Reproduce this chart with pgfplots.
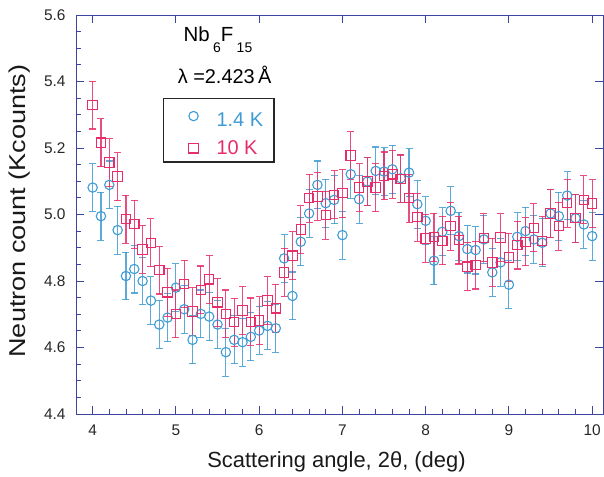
\documentclass[border=0pt]{standalone}
\usepackage{pgfplots}
\pgfplotsset{compat=1.18}
\usepackage{fontspec}
\setmainfont{Liberation Sans}
\definecolor{cblue}{RGB}{62,155,212}
\definecolor{cpink}{RGB}{230,45,105}
\definecolor{axblue}{RGB}{60,70,160}

\pgfplotstableread{
x y
4.0 5.081
4.1 4.995
4.2 5.089
4.3 4.953
4.4 4.815
4.5 4.836
4.6 4.800
4.7 4.741
4.8 4.669
4.9 4.690
5.0 4.780
5.1 4.715
5.2 4.623
5.3 4.701
5.4 4.693
5.5 4.669
5.6 4.586
5.7 4.623
5.8 4.616
5.9 4.632
6.0 4.651
6.1 4.665
6.2 4.658
6.3 4.868
6.4 4.755
6.5 4.918
6.6 5.003
6.7 5.089
6.8 5.034
6.9 5.044
7.0 4.938
7.1 5.121
7.2 5.046
7.3 5.099
7.4 5.131
7.5 5.129
7.6 5.136
7.7 5.109
7.8 5.126
7.9 5.031
8.0 4.981
8.1 4.861
8.2 4.948
8.3 5.011
8.4 4.935
8.5 4.896
8.6 4.893
8.7 4.925
8.8 4.826
8.9 4.856
9.0 4.789
9.1 4.933
9.2 4.950
9.3 4.925
9.4 4.915
9.5 5.003
9.6 4.995
9.7 5.057
9.8 4.989
9.9 4.970
10.0 4.935
}\lowT

\pgfplotstableread{
x y
4.0 5.329
4.1 5.216
4.2 5.156
4.3 5.114
4.4 4.986
4.5 4.971
4.6 4.895
4.7 4.915
4.8 4.833
4.9 4.766
5.0 4.701
5.1 4.791
5.2 4.708
5.3 4.773
5.4 4.805
5.5 4.736
5.6 4.701
5.7 4.676
5.8 4.711
5.9 4.677
6.0 4.681
6.1 4.741
6.2 4.718
6.3 4.826
6.4 4.876
6.5 4.955
6.6 5.049
6.7 5.054
6.8 4.998
6.9 5.059
7.0 5.064
7.1 5.177
7.2 5.081
7.3 5.099
7.4 5.081
7.5 5.116
7.6 5.121
7.7 5.107
7.8 5.049
7.9 4.992
8.0 4.928
8.1 4.932
8.2 4.921
8.3 4.965
8.4 4.923
8.5 4.843
8.6 4.848
8.7 4.930
8.8 4.856
8.9 4.931
9.0 4.871
9.1 4.908
9.2 4.918
9.3 4.960
9.4 4.921
9.5 5.003
9.6 4.965
9.7 5.034
9.8 4.989
9.9 5.044
10.0 5.033
}\highT

\begin{document}
\begin{tikzpicture}
\pgfplotsset{
  common/.style={
    at={(0,0)}, anchor=south west,
    scale only axis, width=527bp, height=399bp,
    xmin=3.8, xmax=10.13, ymin=4.4, ymax=5.6,
    xtick={4,5,...,10},
    ytick={4.4,4.6,...,5.6},
    tick align=inside,
    axis line style={axblue, line width=0.9pt},
    every tick/.append style={axblue, line width=0.9pt},
    major tick length=8bp, minor tick length=5bp,
  }
}
\begin{axis}[common,
  xtick pos=left, ytick pos=left,
  minor x tick num=4, minor y tick num=3,
  /pgf/number format/assume math mode=true,
  ticklabel style={font=\fontsize{15.5}{18}\selectfont, text=black!85},
  yticklabel style={xshift=-7bp, /pgf/number format/.cd, fixed, fixed zerofill, precision=1},
  xticklabel style={yshift=-7bp, /pgf/number format/.cd, fixed, precision=0},
  legend style={at={(axis description cs:0.165,0.792)}, anchor=north west,
    draw=black!85, line width=1.2pt, font=\fontsize{20}{24}\selectfont,
    inner xsep=0bp, inner ysep=4bp, row sep=9bp},
  legend image code/.code={%
    \path[draw=none, fill=none, use as bounding box] (0bp,-4bp) rectangle (51bp,4bp);
    \draw[#1] plot coordinates {(30bp,0bp)};},
  legend cell align=left,
]
\addplot[only marks, mark=o, color=cblue, mark size=4.7bp,
  mark options={line width=1.1pt, solid},
  error bars/.cd, y dir=both, y fixed=0.072,
  error bar style={line width=1.1pt, cblue, opacity=0.85},
  error mark options={cblue, opacity=0.85, line width=1.1pt, mark size=3.5bp, rotate=90}]
  table[x=x,y=y] {\lowT};
\addlegendentry{\rule{0pt}{21.5bp}\textcolor{cblue}{1.4 K}\hspace*{9bp}}
\addplot[only marks, mark=square, color=cpink, mark size=4.7bp,
  mark options={line width=1.1pt, solid},
  error bars/.cd, y dir=both, y fixed=0.072,
  error bar style={line width=1.1pt, cpink, opacity=0.85},
  error mark options={cpink, opacity=0.85, line width=1.1pt, mark size=3.5bp, rotate=90}]
  table[x=x,y=y] {\highT};
\addlegendentry{\textcolor{cpink}{10 K}}
\node[anchor=base west, font=\fontsize{20.5}{24}\selectfont, inner sep=0pt] at (axis cs:5.09,5.519)
  {Nb\,\raisebox{-11bp}{\fontsize{14}{16}\selectfont 6}F\,\raisebox{-11bp}{\fontsize{14}{16}\selectfont 15}};
\node[anchor=base west, font=\fontsize{20}{23}\selectfont, inner sep=0pt] at (axis cs:5.02,5.395)
  {λ =2.423\,Å};
\end{axis}
\begin{axis}[common,
  xtick pos=right, ytick pos=right,
  xticklabels={}, yticklabels={},
  minor x tick num=0, minor y tick num=0]
\end{axis}
\node[rotate=90, font=\fontsize{23}{27}\selectfont, text=black!90] at (-56bp,203bp) {\scalebox{1.18}[1]{Neutron count (Kcounts)}};
\node[font=\fontsize{22}{26}\selectfont, text=black!90] at (260.5bp,-48bp) {Scattering angle, 2θ, (deg)};
\pgfresetboundingbox
\path[use as bounding box] (-76bp,-63bp) rectangle (528bp,414bp);
\end{tikzpicture}
\end{document}
